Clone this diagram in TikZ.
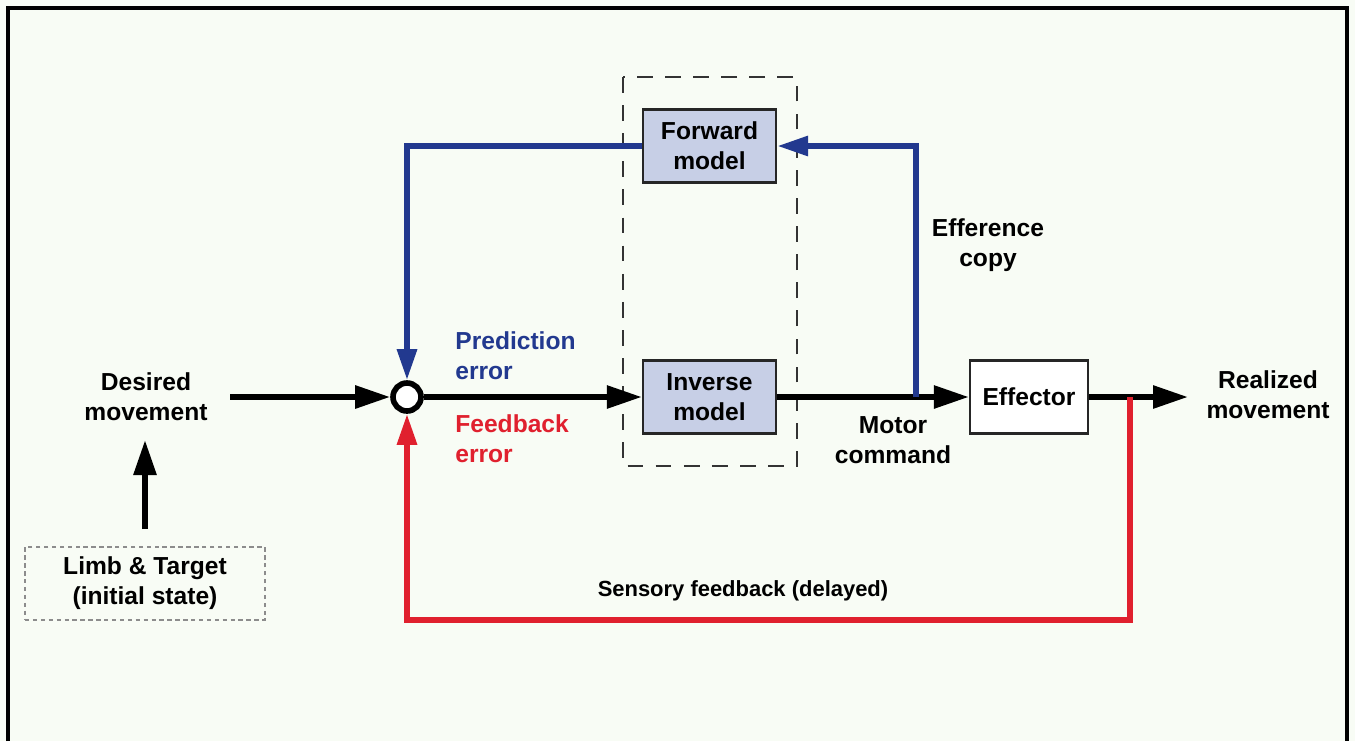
\documentclass[tikz,border=0pt]{standalone}
\usepackage{fontspec}
\setmainfont{Liberation Sans}
\usetikzlibrary{arrows.meta}
\definecolor{bg}{HTML}{F8FCF5}
\definecolor{myblue}{HTML}{22398F}
\definecolor{myred}{HTML}{E0202E}
\definecolor{boxblue}{HTML}{C7CFE6}
\tikzset{
  lbl/.style={font=\bfseries\fontsize{14}{17}\selectfont, align=center, inner sep=0pt},
  modelbox/.style={draw=black!85, line width=1.3pt, fill=boxblue, minimum width=133*0.02cm, minimum height=73*0.02cm, align=center, font=\bfseries\fontsize{14}{17}\selectfont},
  bigarrow/.style={line width=3.3pt, -{Triangle[length=0.7cm,width=0.44cm]}},
  colarrow/.style={line width=3.4pt, -{Triangle[length=0.62cm,width=0.38cm]}},
}
\begin{document}
\begin{tikzpicture}[x=0.02cm,y=-0.02cm]
\useasboundingbox (0,0) rectangle (1355,741);
\fill[bg] (0,0) rectangle (1355,741);
\draw[line width=2.2pt] (8,741) -- (8,8) -- (1347,8) -- (1347,741);
% dashed group
\draw[line width=1pt, dash pattern=on 9pt off 7pt, black!80] (623,77) rectangle (797,466);
% boxes
\node[modelbox] (fwd) at (709.5,146) {Forward\\model};
\node[modelbox] (inv) at (709.5,397) {Inverse\\model};
\node[draw=black!85, line width=1.3pt, fill=white, minimum width=118*0.02cm, minimum height=73*0.02cm, font=\bfseries\fontsize{14}{17}\selectfont] (eff) at (1029,397) {Effector};
\node[draw, circle, line width=3.2pt, fill=white, minimum size=28*0.02cm, inner sep=0pt] (sum) at (407,397) {};
% texts
\node[lbl] (des) at (146,397) {Desired\\movement};
\node[lbl] (real) at (1268,395) {Realized\\movement};
\node[lbl, text=myblue, align=left, anchor=west] (pred) at (455,356) {Prediction\\error};
\node[lbl, text=myred, align=left, anchor=west] (fb) at (455,439) {Feedback\\error};
\node[lbl] (effcopy) at (988,245) {Efference\\copy};
\node[lbl] (motor) at (893,440) {Motor\\command};
\node[lbl, font=\bfseries\fontsize{12.5}{15}\selectfont] (sens) at (743,591) {Sensory feedback (delayed)};
\node[draw=black!45, dash pattern=on 2.5pt off 2pt, line width=0.9pt, minimum width=240*0.02cm, minimum height=73*0.02cm, lbl, inner sep=0pt] (limb) at (145,583.5) {Limb \& Target\\(initial state)};
% coordinates
\coordinate (desR) at (230,397);
\coordinate (limbT) at (145,529);
\coordinate (desB) at (145,440);
\coordinate (realL) at (1188,397);
\coordinate (ecB) at (916,397);
\coordinate (fbR) at (1130,397);
\coordinate (fbB) at (1130,620);
% black arrows
\draw[bigarrow] (desR) -- (sum.west);
\draw[bigarrow] (sum.east) -- (inv.west);
\draw[bigarrow] (inv.east) -- (eff.west);
\draw[bigarrow] (eff.east) -- (realL);
\draw[bigarrow] (limbT) -- (desB);
% blue loop
\draw[colarrow, myblue] (ecB) |- (fwd.east);
\draw[colarrow, myblue] (fwd.west) -| (sum.north);
% red loop
\draw[colarrow, myred] (fbR) -- (fbB) -| (sum.south);
\end{tikzpicture}
\end{document}
